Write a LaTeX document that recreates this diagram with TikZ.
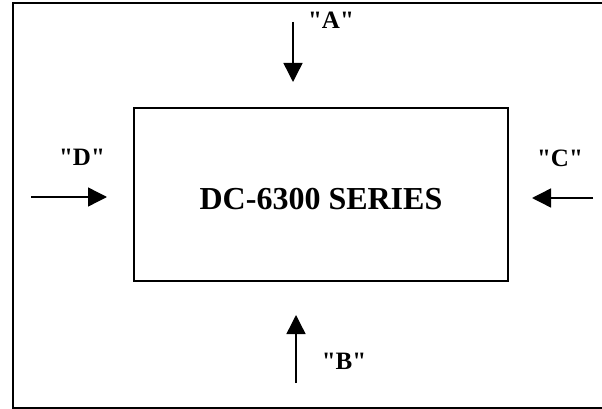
\documentclass[tikz,border=0pt]{standalone}
\usepackage{fontspec}
\setmainfont{Liberation Serif}
\usetikzlibrary{arrows.meta}

\tikzset{
  viewlabel/.style={font=\bfseries\fontsize{25}{27}\selectfont, inner sep=0pt},
  viewarrow/.style={line width=1.4pt, -{Triangle[length=19pt,width=19pt]}}
}

% (name, tail, tip, label position, label)
\newcommand{\viewdir}[5]{
    \coordinate (#1tail) at #2;
    \coordinate (#1tip) at #3;
    \draw[viewarrow] (#1tail) -- (#1tip);
    \node[viewlabel] (#1lab) at #4 {\textquotedbl#5\textquotedbl};
}

\begin{document}
\begin{tikzpicture}[x=1pt,y=-1pt]

  \useasboundingbox (0,0) rectangle (602,409);

  % outer frame, right side runs off the page
  \draw[line width=2pt] (603,3) -- (13,3) -- (13,407.5) -- (603,407.5);

  \node[draw, line width=2pt, minimum width=374pt, minimum height=173pt] (unit) at (321,194.5) {};
  \node[font=\bfseries\fontsize{32}{34}\selectfont, inner sep=0pt] (title) at (321,199) {DC-6300 SERIES};

  \viewdir{A}{(293,22)}{(293,82)}{(331,20)}{A}
  \viewdir{B}{(296,383)}{(296,315)}{(344,361)}{B}
  \viewdir{C}{(593,198)}{(532,198)}{(560,158)}{C}
  \viewdir{D}{(31,197)}{(107,197)}{(82,157)}{D}

\end{tikzpicture}
\end{document}
